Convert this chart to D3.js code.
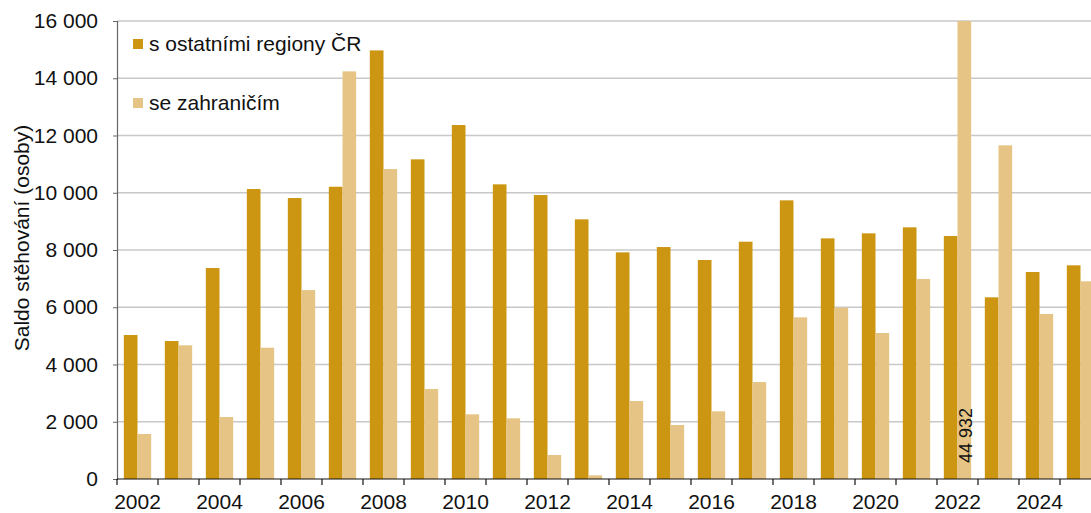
<!DOCTYPE html>
<html>
<head>
<meta charset="utf-8">
<script src="https://cdn.jsdelivr.net/npm/d3@7"></script>
<style>
  body { margin: 0; background: #fff; }
  svg { display: block; font-family: "Liberation Sans", Arial, sans-serif; }
</style>
</head>
<body>
<div id="chart"></div>
<script>
var width = 1091;
var height = 513;

// roky
var years = d3.range(2002, 2026);
// saldo s ostatními regiony ČR
var domestic = [5030, 4820, 7370, 10130, 9815, 10210, 14973, 11167, 12365, 10294, 9920, 9071,
  7918, 8104, 7650, 8290, 9735, 8407, 8582, 8792, 8488, 6347, 7231, 7465];
// saldo se zahraničím
var foreign = [1572, 4670, 2166, 4587, 6600, 14240, 10828, 3144, 2259, 2119, 838, 128,
  2725, 1886, 2364, 3388, 5648, 5984, 5100, 6986, 44932, 11656, 5764, 6906];
var seriesNames = ['s ostatními regiony ČR', 'se zahraničím'];
var colors = ['#CC9613', '#E6C485'];
var yTicks = [0, 2000, 4000, 6000, 8000, 10000, 12000, 14000, 16000];
var yMax = 16000;

var margin = { left: 117, top: 21, bottom: 34 };
var plotRight = margin.left + 41 * years.length;

var svg = d3.select('#chart')
  .append('svg')
  .attr('width', width)
  .attr('height', height);

var x = d3.scaleBand()
  .domain(years)
  .range([margin.left, plotRight]);

var xInner = d3.scaleBand()
  .domain([0, 1])
  .range([0, x.bandwidth()])
  .paddingOuter(0.5)
  .paddingInner(0);

var y = d3.scaleLinear()
  .domain([0, yMax])
  .range([height - margin.bottom, margin.top]);

var fmt = v => d3.format(',')(v).replace(/,/g, ' ');

// mřížka
svg.append('g')
  .selectAll('line')
  .data(yTicks.filter(t => t > 0))
  .enter()
  .append('line')
  .attr('x1', margin.left)
  .attr('x2', width)
  .attr('y1', d => y(d))
  .attr('y2', d => y(d))
  .attr('stroke', '#c8c8c8')
  .attr('stroke-width', 1.5);

// sloupce
var groups = svg.append('g')
  .selectAll('g')
  .data(years.map((yr, i) => ({ year: yr, values: [domestic[i], foreign[i]] })))
  .enter()
  .append('g')
  .attr('transform', d => 'translate(' + x(d.year) + ',0)');

groups.selectAll('rect')
  .data(d => d.values.map((v, k) => ({ k: k, v: v })))
  .enter()
  .append('rect')
  .attr('x', d => xInner(d.k))
  .attr('width', xInner.bandwidth())
  .attr('y', d => y(Math.min(d.v, yMax)))
  .attr('height', d => y(0) - y(Math.min(d.v, yMax)))
  .attr('fill', d => colors[d.k]);

// popisek přetékající hodnoty
groups.filter(d => d.values[1] > yMax)
  .append('text')
  .attr('transform', d => 'translate(' + (xInner(1) + xInner.bandwidth() / 2 + 8) + ',' + (y(0) - 16) + ') rotate(-90)')
  .attr('font-size', 18)
  .attr('fill', '#111')
  .text(d => fmt(d.values[1]));

// osa y
var yAxis = svg.append('g')
  .attr('transform', 'translate(' + margin.left + ',0)')
  .call(d3.axisLeft(y).tickValues(yTicks).tickFormat(fmt).tickSize(4).tickPadding(15));
yAxis.select('.domain').attr('stroke', '#666').attr('stroke-width', 1.2);
yAxis.selectAll('.tick line').attr('stroke', '#666');
yAxis.selectAll('text').attr('font-size', 21).attr('fill', '#111').attr('font-family', '"Liberation Sans", Arial, sans-serif');

// osa x
var xAxis = svg.append('g')
  .attr('transform', 'translate(0,' + y(0) + ')');
xAxis.append('line')
  .attr('x1', margin.left)
  .attr('x2', width)
  .attr('stroke', '#111')
  .attr('stroke-width', 1.2);
xAxis.selectAll('.tk')
  .data(years.concat([null]))
  .enter()
  .append('line')
  .attr('x1', (d, i) => margin.left + i * x.step())
  .attr('x2', (d, i) => margin.left + i * x.step())
  .attr('y1', 0)
  .attr('y2', 6)
  .attr('stroke', '#111')
  .attr('stroke-width', 1.2);
xAxis.selectAll('text')
  .data(years.filter(yr => yr % 2 === 0))
  .enter()
  .append('text')
  .attr('x', d => x(d) + x.bandwidth() / 2)
  .attr('y', 30)
  .attr('text-anchor', 'middle')
  .attr('font-size', 21)
  .attr('fill', '#111')
  .text(d => d);

// popis osy y
svg.append('text')
  .attr('transform', 'translate(29,238) rotate(-90)')
  .attr('text-anchor', 'middle')
  .attr('font-size', 21)
  .attr('fill', '#111')
  .text('Saldo stěhování (osoby)');

// legenda
var legend = svg.append('g')
  .selectAll('g')
  .data(seriesNames)
  .enter()
  .append('g')
  .attr('transform', (d, i) => 'translate(133,' + (39 + i * 59) + ')');
legend.append('rect')
  .attr('width', 10)
  .attr('height', 10)
  .attr('fill', (d, i) => colors[i]);
legend.append('text')
  .attr('x', 16)
  .attr('y', 12)
  .attr('font-size', 21)
  .attr('fill', '#111')
  .text(d => d);
</script>
</body>
</html>
